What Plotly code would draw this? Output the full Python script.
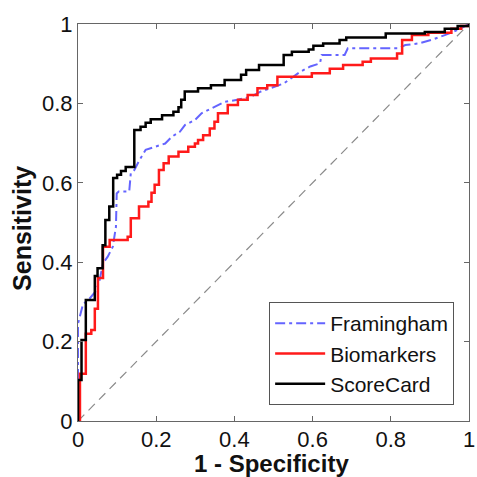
import plotly.graph_objects as go

# ---- data ----
fram_x = [0, 0, 0.013, 0.026, 0.047, 0.055, 0.064, 0.076, 0.089, 0.097, 0.099, 0.104, 0.131, 0.135,
          0.144, 0.156, 0.173, 0.198, 0.223, 0.24, 0.261, 0.274, 0.299, 0.316, 0.349, 0.375, 0.408,
          0.443, 0.468, 0.526, 0.569, 0.594, 0.619, 0.623, 0.682, 0.69, 0.82, 0.837, 0.871, 0.904,
          0.938, 0.971, 1.0]
fram_y = [0, 0.245, 0.295, 0.304, 0.329, 0.354, 0.397, 0.414, 0.439, 0.489, 0.573, 0.578, 0.578, 0.624,
          0.632, 0.655, 0.683, 0.691, 0.699, 0.716, 0.729, 0.746, 0.758, 0.775, 0.792, 0.804, 0.809,
          0.817, 0.83, 0.85, 0.88, 0.893, 0.901, 0.922, 0.922, 0.939, 0.939, 0.947, 0.951, 0.96,
          0.972, 0.985, 1.0]

bio_x = [0, 0.005, 0.02, 0.034, 0.043, 0.051, 0.064, 0.081, 0.127, 0.135, 0.156, 0.18, 0.188, 0.196,
         0.207, 0.219, 0.232, 0.257, 0.282, 0.299, 0.307, 0.32, 0.337, 0.349, 0.358, 0.383, 0.409,
         0.434, 0.459, 0.484, 0.51, 0.598, 0.644, 0.678, 0.728, 0.749, 0.816, 0.829, 0.854, 0.896,
         0.955, 0.98, 1.0]
bio_y = [0, 0.119, 0.22, 0.229, 0.283, 0.36, 0.439, 0.456, 0.464, 0.511, 0.54, 0.552, 0.575, 0.595,
         0.632, 0.649, 0.666, 0.678, 0.691, 0.699, 0.708, 0.72, 0.737, 0.754, 0.775, 0.796, 0.809,
         0.821, 0.838, 0.846, 0.867, 0.876, 0.887, 0.897, 0.905, 0.913, 0.926, 0.96, 0.972, 0.978,
         0.988, 0.995, 1.0]

score_x = [0, 0, 0.009, 0.02, 0.043, 0.05, 0.063, 0.07, 0.08, 0.09, 0.10, 0.11, 0.122, 0.144, 0.16,
           0.173, 0.186, 0.215, 0.244, 0.257, 0.264, 0.273, 0.307, 0.34, 0.375, 0.417, 0.43, 0.463,
           0.526, 0.547, 0.59, 0.602, 0.627, 0.669, 0.686, 0.787, 0.887, 0.938, 0.971, 1.0]
score_y = [0, 0.103, 0.204, 0.305, 0.365, 0.385, 0.443, 0.506, 0.54, 0.612, 0.62, 0.63, 0.64, 0.733,
           0.741, 0.751, 0.76, 0.77, 0.779, 0.79, 0.809, 0.83, 0.838, 0.846, 0.859, 0.872, 0.884,
           0.897, 0.922, 0.93, 0.936, 0.945, 0.951, 0.96, 0.966, 0.976, 0.98, 0.988, 0.995, 1.0]

diag_x = [0, 1]
diag_y = [0, 1]

tick_vals = [0, 0.2, 0.4, 0.6, 0.8, 1]
tick_text = ["0", "0.2", "0.4", "0.6", "0.8", "1"]

FONT = "Liberation Sans, Arial, sans-serif"

fig = go.Figure()
fig.add_trace(go.Scatter(x=diag_x, y=diag_y, mode="lines", showlegend=False,
                         line=dict(color="#8a8a8a", width=1.2, dash="9px,6px")))
fig.add_trace(go.Scatter(x=fram_x, y=fram_y, mode="lines", name="Framingham",
                         line=dict(color="#6464ff", width=2, dash="10px,4px,3px,4px")))
fig.add_trace(go.Scatter(x=bio_x, y=bio_y, mode="lines", name="Biomarkers", line_shape="hv",
                         line=dict(color="#ff1a1a", width=2.5)))
fig.add_trace(go.Scatter(x=score_x, y=score_y, mode="lines", name="ScoreCard", line_shape="hv",
                         line=dict(color="#000000", width=2.5)))

axis_common = dict(range=[0, 1], tickvals=tick_vals, ticktext=tick_text, ticks="inside", ticklen=5,
                   tickcolor="#666666", showline=True, linecolor="#666666", linewidth=1.2,
                   mirror="ticks", showgrid=False, zeroline=False, ticklabeloverflow="allow",
                   tickfont=dict(family=FONT, size=22, color="#111111"))
fig.update_xaxes(**axis_common, ticklabelstandoff=-2)
fig.update_yaxes(**axis_common)

fig.update_layout(
    width=477, height=477,
    margin=dict(l=78, r=2, t=24, b=56),
    paper_bgcolor="white", plot_bgcolor="white",
    legend=dict(x=0.962, y=0.04, xanchor="right", yanchor="bottom",
                bgcolor="white", bordercolor="#555555", borderwidth=1,
                font=dict(family=FONT, size=21, color="#111111"),
                itemwidth=50, tracegroupgap=0),
    annotations=[
        dict(text="<b>1 - Specificity</b>", xref="paper", yref="paper", x=0.496, y=-0.108,
             xanchor="center", yanchor="middle", showarrow=False,
             font=dict(family=FONT, size=24, color="#111111")),
        dict(text="<b>Sensitivity</b>", xref="paper", yref="paper", x=-0.1436, y=0.486,
             xanchor="center", yanchor="middle", showarrow=False, textangle=-90,
             font=dict(family=FONT, size=25, color="#111111")),
    ],
)

fig.write_html("out.html")
